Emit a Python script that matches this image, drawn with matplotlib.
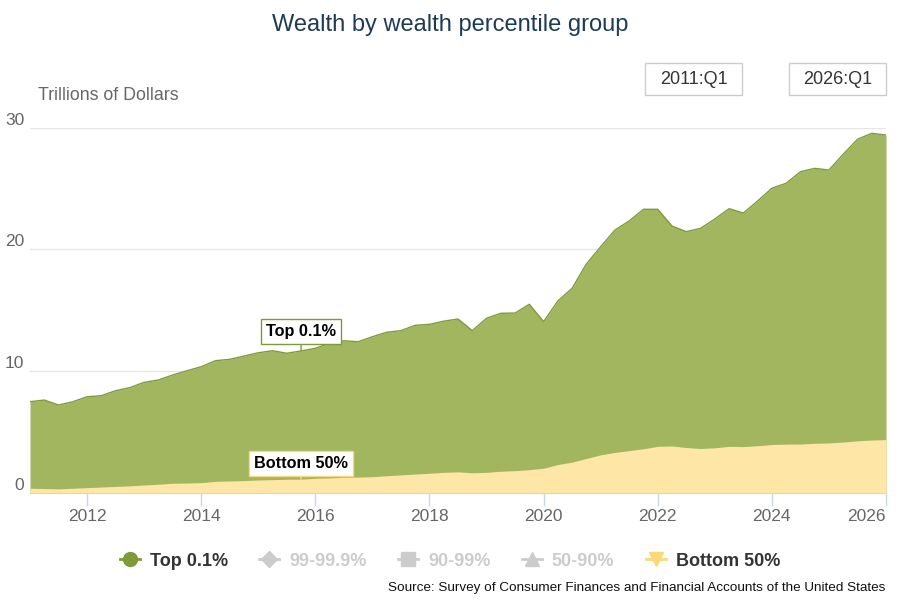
import numpy as np
import matplotlib
matplotlib.use("Agg")
import matplotlib.pyplot as plt
from matplotlib.lines import Line2D
from matplotlib.patches import Rectangle
from matplotlib.transforms import ScaledTranslation

plt.rcParams['font.family'] = ['Liberation Sans', 'DejaVu Sans']

# quarterly data, 2011:Q1 .. 2026:Q1 (trillions of dollars)
quarters = 2011 + 0.25 * np.arange(61)
top_01 = [
    7.47, 7.61, 7.20, 7.47,
    7.88, 7.97, 8.38, 8.63,
    9.07, 9.26, 9.67, 10.02,
    10.35, 10.85, 10.96, 11.23,
    11.50, 11.67, 11.46, 11.65,
    11.87, 12.28, 12.49, 12.41,
    12.82, 13.19, 13.32, 13.76,
    13.84, 14.10, 14.28, 13.32,
    14.34, 14.75, 14.77, 15.49,
    14.06, 15.76, 16.81, 18.81,
    20.23, 21.60, 22.35, 23.31,
    23.31, 21.93, 21.47, 21.74,
    22.51, 23.36, 23.00, 23.99,
    25.04, 25.45, 26.40, 26.68,
    26.54, 27.84, 29.07, 29.56,
    29.42,
]
bottom_50 = [
    0.35, 0.33, 0.30, 0.35,
    0.40, 0.45, 0.50, 0.55,
    0.62, 0.68, 0.76, 0.78,
    0.81, 0.92, 0.95, 0.98,
    1.03, 1.06, 1.09, 1.10,
    1.17, 1.20, 1.25, 1.27,
    1.30, 1.38, 1.45, 1.52,
    1.58, 1.66, 1.70, 1.62,
    1.66, 1.75, 1.80, 1.88,
    2.00, 2.30, 2.50, 2.80,
    3.10, 3.30, 3.45, 3.60,
    3.80, 3.83, 3.70, 3.62,
    3.68, 3.80, 3.78, 3.85,
    3.95, 3.98, 3.99, 4.05,
    4.08, 4.15, 4.25, 4.32,
    4.35,
]
year_ticks = list(range(2012, 2027, 2))
legend_labels = ["Top 0.1%", "99-99.9%", "90-99%", "50-90%", "Bottom 50%"]
label_idx = 19  # 2015:Q4, where the callouts sit

GREEN_FILL = "#a1b65f"
GREEN_LINE = "#7f9a3a"
YELLOW_FILL = "#fde6a6"
YELLOW_MARK = "#fbd97a"
GREY_OFF = "#cccccc"

fig = plt.figure(figsize=(9, 6), dpi=100)
ax = fig.add_axes([30 / 900, 1 - 492.5 / 600, 856 / 900, 364.5 / 600])

ax.fill_between(quarters, 0, top_01, color=GREEN_FILL, linewidth=0, zorder=2)
ax.plot(quarters, top_01, color=GREEN_LINE, linewidth=1, zorder=3)
ax.fill_between(quarters, 0, bottom_50, color=YELLOW_FILL, linewidth=0, zorder=4)

ax.set_xlim(2011, 2026)
ax.set_ylim(0, 30)
ax.set_yticks([0, 10, 20, 30])
ax.set_xticks(year_ticks)
ax.set_xticklabels([str(y) for y in year_ticks])
ax.get_xticklabels()[-1].set_horizontalalignment('right')
ax.grid(axis='y', color='#e6e6e6', linewidth=1, zorder=0)
ax.set_axisbelow(True)
for s in ['top', 'right', 'left']:
    ax.spines[s].set_visible(False)
ax.spines['bottom'].set_color('#ccd6eb')
ax.tick_params(axis='x', colors='#ccd6eb', length=9, width=1, labelcolor='#666666',
               labelsize=12.5, pad=3)
ax.tick_params(axis='y', length=0, labelcolor='#666666', labelsize=12.5, pad=4)
# highcharts puts y labels slightly above the gridline
for lab in ax.get_yticklabels():
    lab.set_transform(lab.get_transform() + ScaledTranslation(0, 9 / 100, fig.dpi_scale_trans))

# callouts
ax.annotate("Top 0.1%", xy=(quarters[label_idx], top_01[label_idx]), xytext=(0, 14),
            textcoords='offset points', ha='center', va='center', fontsize=11.7,
            fontweight='bold', color='black', zorder=6,
            bbox=dict(boxstyle='square,pad=0.3', fc='white', ec=GREEN_LINE, lw=1),
            arrowprops=dict(arrowstyle='-', color=GREEN_LINE, lw=1, shrinkA=0, shrinkB=0))
ax.annotate("Bottom 50%", xy=(quarters[label_idx], bottom_50[label_idx]), xytext=(0, 11),
            textcoords='offset points', ha='center', va='center', fontsize=11.7,
            fontweight='bold', color='black', zorder=6,
            bbox=dict(boxstyle='square,pad=0.3', fc='white', ec=YELLOW_MARK, lw=1),
            arrowprops=dict(arrowstyle='-', color=YELLOW_MARK, lw=1, shrinkA=0, shrinkB=0))

# title and axis caption
fig.text(0.5, 1 - 25 / 600, "Wealth by wealth percentile group", ha='center', va='center',
         fontsize=17, color='#1f3a56')
fig.text(38 / 900, 1 - 95 / 600, "Trillions of Dollars", ha='left', va='center',
         fontsize=12.8, color='#666666')

# range selector boxes
for x0, txt in [(645, "2011:Q1"), (789, "2026:Q1")]:
    fig.patches.append(Rectangle((x0 / 900, 1 - 95 / 600), 97 / 900, 32 / 600,
                                 transform=fig.transFigure, fc='white', ec='#cccccc', lw=1))
    fig.text((x0 + 48.5) / 900, 1 - 79 / 600, txt, ha='center', va='center',
             fontsize=13, color='#333333')

# legend
handles = [
    Line2D([], [], color=GREEN_LINE, marker='o', markersize=10, lw=2),
    Line2D([], [], color=GREY_OFF, marker='D', markersize=8, lw=2),
    Line2D([], [], color=GREY_OFF, marker='s', markersize=10, lw=2),
    Line2D([], [], color=GREY_OFF, marker='^', markersize=10, lw=2),
    Line2D([], [], color=YELLOW_MARK, marker='v', markersize=10, lw=2),
]
leg = fig.legend(handles, legend_labels, loc='center', bbox_to_anchor=(450 / 900, 1 - 561 / 600),
                 ncol=5, frameon=False, handlelength=1.1, handletextpad=0.55, columnspacing=1.75,
                 prop=dict(size=13, weight='bold'))
for t, c in zip(leg.get_texts(), ['#333333', GREY_OFF, GREY_OFF, GREY_OFF, '#333333']):
    t.set_color(c)

fig.text(885 / 900, 1 - 588 / 600,
         "Source: Survey of Consumer Finances and Financial Accounts of the United States",
         ha='right', va='center', fontsize=9.7, color='#111111')

fig.savefig("out.png", dpi=100)
